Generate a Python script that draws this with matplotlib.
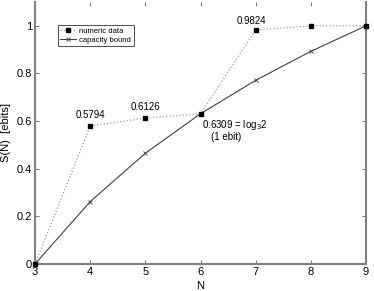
import matplotlib
matplotlib.use('Agg')
import matplotlib.pyplot as plt

plt.rcParams['font.family'] = ['Liberation Sans', 'DejaVu Sans']

# data
N = [3, 4, 5, 6, 7, 8, 9]
numeric = [0.0, 0.5794, 0.6126, 0.6309, 0.9824, 1.0, 1.0]
capacity = [0.0, 0.2619, 0.4650, 0.6309, 0.7712, 0.8928, 1.0]
xticks = [3, 4, 5, 6, 7, 8, 9]
yticks = [0, 0.2, 0.4, 0.6, 0.8, 1]
ytick_labels = ['0', '0.2', '0.4', '0.6', '0.8', '1']

fig = plt.figure(figsize=(3.74, 2.91), dpi=100)
ax = fig.add_axes([35/374, 27/291, 331/374, 262/291])

ax.plot(N, numeric, color='#a0a0a0', linestyle=':', linewidth=0.9,
        marker='s', markersize=3.5, markerfacecolor='black', markeredgecolor='black',
        label='numeric data', clip_on=False, zorder=3)
ax.plot(N, capacity, color='#404040', linestyle='-', linewidth=0.8,
        marker='x', markersize=3, markeredgewidth=0.6, markeredgecolor='#404040',
        label='capacity bound', clip_on=False, zorder=2)

ax.set_xlim(3, 9)
ax.set_ylim(0, 1.1)
ax.set_xticks(xticks)
ax.set_yticks(yticks)
ax.set_yticklabels(ytick_labels)
ax.tick_params(direction='in', top=True, right=True, labelsize=8, length=3,
               color='#606060', width=0.6, pad=2)
for s in ['left', 'bottom', 'right']:
    ax.spines[s].set_color('#808080')
    ax.spines[s].set_linewidth(1.5)
ax.spines['top'].set_visible(False)

ax.set_xlabel('N', fontsize=8, labelpad=3)
ax.set_ylabel('S(N)  [ebits]', fontsize=8, labelpad=4)

ax.text(4.0, 0.605, '0.5794', fontsize=7, ha='center', va='bottom')
ax.text(5.0, 0.638, '0.6126', fontsize=7, ha='center', va='bottom')
ax.text(6.93, 0.998, '0.9824', fontsize=7, ha='center', va='bottom')
ax.text(6.03, 0.585, '0.6309 = log$_3$2', fontsize=7, ha='left', va='center')
ax.text(6.47, 0.533, '(1 ebit)', fontsize=7, ha='center', va='center')

leg = ax.legend(loc='upper left', bbox_to_anchor=(0.058, 0.925), fontsize=5.5,
                frameon=True, fancybox=False, edgecolor='black', borderpad=0.3,
                labelspacing=0.2, handlelength=2.0, handletextpad=0.5)
leg.get_frame().set_linewidth(0.6)

fig.savefig('out.png', dpi=100)
